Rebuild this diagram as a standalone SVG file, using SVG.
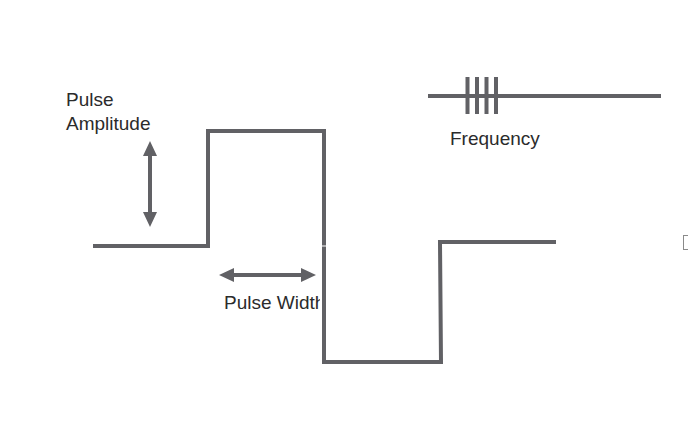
<svg xmlns="http://www.w3.org/2000/svg" width="688" height="424" viewBox="0 0 688 424">
<style>
.w{fill:none;stroke:#616165;stroke-width:4;stroke-linejoin:miter;stroke-linecap:butt}
.t{font-family:"Liberation Sans",Arial,sans-serif;font-size:19px;fill:#2b2b2b}
.a{fill:#616165}
</style>
<defs>
<clipPath id="pwclip"><rect x="0" y="280" width="320" height="40"/></clipPath>
</defs>
<rect width="688" height="424" fill="#ffffff"/>
<g id="connectors">
<polyline class="w" points="93,246 208,246 208,131 324,131 324,245.5"/>
<polyline class="w" points="324,246.5 324,362 441,362 440,242 556,242"/>
</g>
<g id="frequency">
<line class="w" x1="428" y1="96" x2="661" y2="96"/>
<line class="w" x1="467.5" y1="77" x2="467.5" y2="114"/>
<line class="w" x1="477" y1="77" x2="477" y2="114"/>
<line class="w" x1="486.5" y1="77" x2="486.5" y2="114"/>
<line class="w" x1="496" y1="77" x2="496" y2="114"/>
<text class="t" x="450" y="145">Frequency</text>
</g>
<g id="amplitude">
<line class="w" x1="150" y1="154" x2="150" y2="214"/>
<polygon class="a" points="150,141 157,156 143,156"/>
<polygon class="a" points="150,227 157,212 143,212"/>
<text class="t" x="66" y="106">Pulse</text>
<text class="t" x="66" y="130">Amplitude</text>
</g>
<g id="width">
<line class="w" x1="231" y1="275" x2="302" y2="275"/>
<polygon class="a" points="219,275 234,268 234,282"/>
<polygon class="a" points="316,275 301,268 301,282"/>
<text class="t" x="224" y="309" clip-path="url(#pwclip)">Pulse Width</text>
</g>
<g id="box">
<rect x="683.5" y="235.5" width="10" height="14" fill="#ffffff" stroke="#8a8a8a" stroke-width="1"/>
</g>
</svg>
